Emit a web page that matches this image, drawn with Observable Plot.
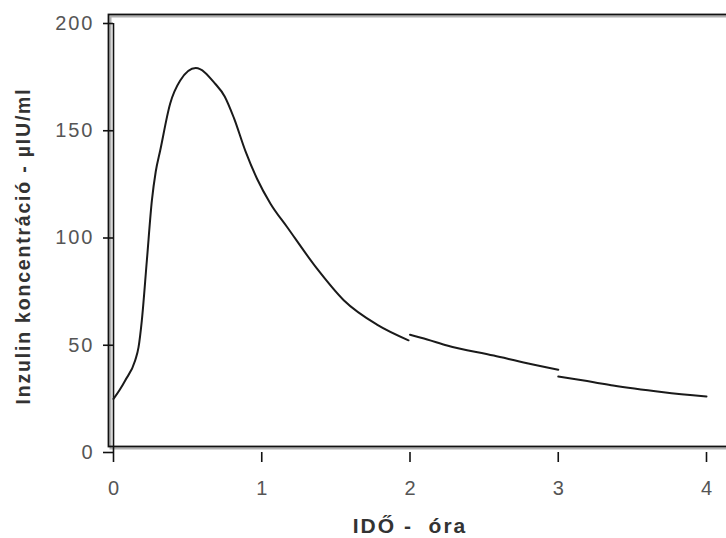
<!DOCTYPE html>
<html>
<head>
<meta charset="utf-8">
<script src="https://cdn.jsdelivr.net/npm/d3@7"></script>
<script src="https://cdn.jsdelivr.net/npm/@observablehq/plot@0.6"></script>
<style>
  html, body { margin: 0; padding: 0; background: #fff; }
  #chart svg { overflow: hidden; display: block; }
  #chart g[aria-label="y-axis tick label"] text { letter-spacing: 2px; }
  #chart .xtitle text { letter-spacing: 2px; }
  #chart .ytitle text { letter-spacing: 1.8px; }
</style>
</head>
<body>
<div id="chart"></div>
<script>
// Segments of the insulin curve (breaks at 2 h and 3 h)
const seg1Time = [0, 0.04, 0.079, 0.146, 0.169, 0.191, 0.225, 0.259, 0.285, 0.315, 0.382, 0.45, 0.555, 0.686, 0.75, 0.812, 0.89, 0.969, 1.059, 1.172, 1.374, 1.553, 1.78, 1.99];
const seg1Value = [25, 29, 33.6, 42.9, 49.1, 61.5, 89.5, 117.5, 131, 140.8, 162.6, 173.4, 179.2, 171.9, 166, 156, 140.5, 127.5, 116, 105, 85.6, 71, 59.5, 52.3];
const seg2Time = [2.0, 2.116, 2.25, 2.565, 2.79, 3.0];
const seg2Value = [54.9, 52.7, 49.9, 45.2, 41.6, 38.6];
const seg3Time = [3.0, 3.24, 3.37, 3.71, 4.0];
const seg3Value = [35.4, 32.8, 31.2, 28.1, 26.1];

const xTicks = [0, 1, 2, 3, 4];
const yTicks = [0, 50, 100, 150, 200];
const xTitle = "IDŐ -  óra";
const yTitle = "Inzulin koncentráció - µIU/ml";

const data = [
  ...seg1Time.map((t, i) => ({seg: "a", t, v: seg1Value[i]})),
  ...seg2Time.map((t, i) => ({seg: "b", t, v: seg2Value[i]})),
  ...seg3Time.map((t, i) => ({seg: "c", t, v: seg3Value[i]}))
];

const font = "'Liberation Sans', Arial, Helvetica, sans-serif";

const chart = Plot.plot({
  width: 726,
  height: 538,
  marginLeft: 113,
  marginRight: 20,
  marginTop: 23,
  marginBottom: 86,
  style: {fontFamily: font, background: "#fff", overflow: "hidden"},
  x: {domain: [0, 4]},
  y: {domain: [0, 200]},
  marks: [
    // shadow of the box
    Plot.frame({stroke: "#b0b0b0", strokeWidth: 2, insetTop: -7, insetLeft: -3, insetBottom: 4, insetRight: -60}),
    // the box
    Plot.frame({stroke: "#111", strokeWidth: 1.8, insetTop: -9, insetLeft: -5, insetBottom: 6, insetRight: -60}),
    // y axis line
    Plot.ruleX([0], {y1: 0, y2: 200, stroke: "#111", strokeWidth: 1.6}),
    Plot.axisY({ticks: yTicks, tickFormat: d3.format("d"), tickSize: 10, tickPadding: 9, fontSize: 20, fill: "#555", stroke: "#111", strokeWidth: 1.6, label: null}),
    Plot.axisX({ticks: xTicks, tickFormat: d3.format("d"), tickSize: 10, tickPadding: 18, fontSize: 20, fill: "#555", stroke: "#111", strokeWidth: 1.6, label: null}),
    Plot.line(data, {x: "t", y: "v", z: "seg", curve: "monotone-x", stroke: "#1a1a1a", strokeWidth: 2}),
    Plot.text([xTitle], {text: d => d, frameAnchor: "bottom", textAnchor: "middle", dy: 80, fontSize: 21, fontWeight: "bold", fill: "#333", className: "xtitle"}),
    Plot.text([yTitle], {text: d => d, frameAnchor: "left", textAnchor: "middle", dx: -90, dy: 8, rotate: -90, fontSize: 19.5, fontWeight: "bold", fill: "#333", className: "ytitle"})
  ]
});
document.getElementById("chart").appendChild(chart);
</script>
</body>
</html>
